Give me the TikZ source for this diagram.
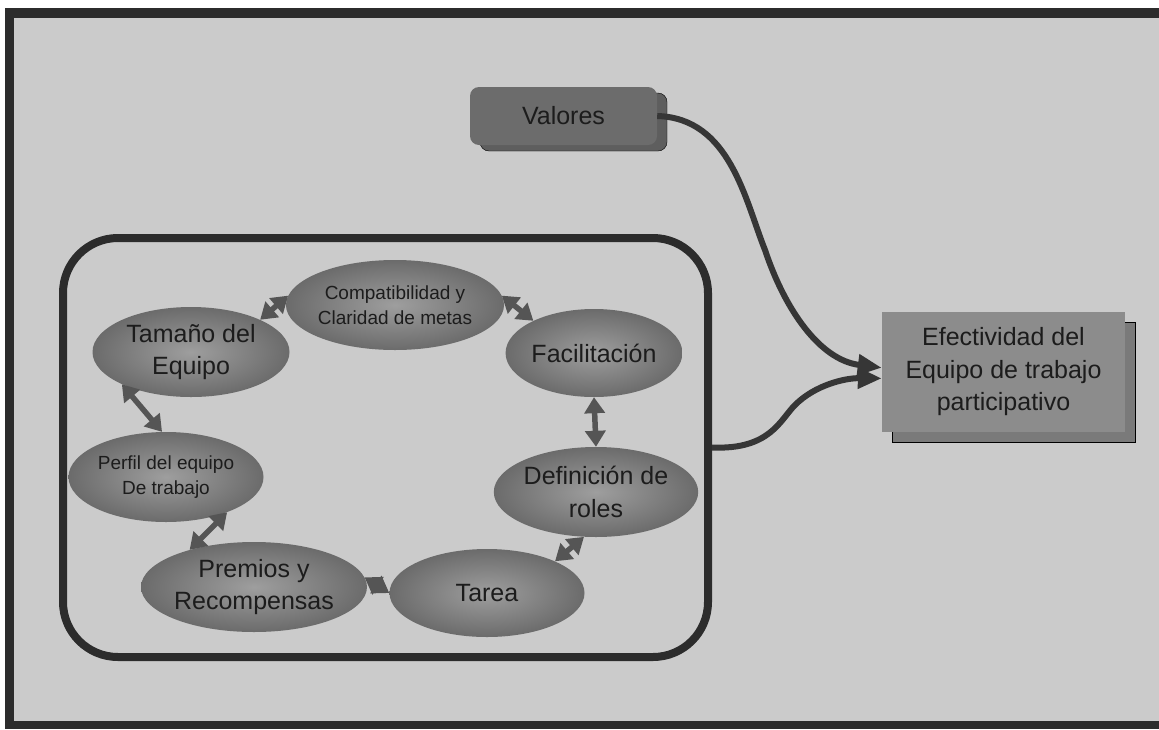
\documentclass[tikz,border=0pt]{standalone}
\usepackage{fontspec}
\setmainfont{Liberation Sans}
\usetikzlibrary{arrows.meta,shapes.geometric,shadows}

\definecolor{pagegray}{HTML}{CBCBCB}
\definecolor{framedark}{HTML}{2C2C2C}
\definecolor{inkdark}{HTML}{1C1C1C}
\definecolor{linkdark}{HTML}{363636}
\definecolor{pairdark}{HTML}{555555}
\definecolor{boxgray}{HTML}{8C8C8C}
\definecolor{boxshade}{HTML}{7A7A7A}
\definecolor{tagdark}{HTML}{6C6C6C}
\definecolor{tagshade}{HTML}{5E5E5E}

\newcommand{\bigtxt}{\fontsize{25}{32.5}\selectfont}
\newcommand{\smalltxt}{\fontsize{19}{25}\selectfont}

\begin{document}
\begin{tikzpicture}[x=1pt,y=-1pt,
  bubble/.style={ellipse, inner sep=0pt, align=center, text=inkdark,
    shade, inner color=black!38, outer color=black!58},
  pair/.style={line width=5.5pt, draw=pairdark,
    {Triangle[length=16pt,width=20pt]}-{Triangle[length=16pt,width=20pt]}},
  link/.style={line width=6pt, draw=linkdark,
    -{Triangle[length=24pt,width=20pt]}},
]
\useasboundingbox (0,0) rectangle (1159,729);

% sheet, dark frame and grey field
\fill[white] (0,0) rectangle (1159,729);
\fill[framedark] (5,8) rectangle (1159,729);
\fill[pagegray] (14,18) rectangle (1159,721);

% group of team factors
\node[draw=framedark, line width=8pt, rounded corners=55pt,
      minimum width=645pt, minimum height=419pt, inner sep=0pt] (grp) at (385.5,447.5) {};

% factors
\node[bubble, minimum width=197pt, minimum height=90pt, font=\bigtxt] (tam) at (191,352) {Tamaño del\\Equipo};
\node[bubble, minimum width=195pt, minimum height=90pt, font=\smalltxt] (comp) at (395,305) {Compatibilidad y\\Claridad de metas};
\node[bubble, minimum width=172pt, minimum height=88pt, font=\bigtxt] (fac) at (594,353) {Facilitación};
\node[bubble, minimum width=193pt, minimum height=90pt, font=\bigtxt] (def) at (596,492) {Definición de\\roles};
\node[bubble, minimum width=195pt, minimum height=88pt, font=\bigtxt] (tar) at (487,593) {Tarea};
\node[bubble, minimum width=198pt, minimum height=90pt, font=\bigtxt] (pre) at (254,587) {Premios y\\Recompensas};
\node[bubble, minimum width=195pt, minimum height=90pt, font=\smalltxt] (per) at (166,477) {Perfil del equipo\\De trabajo};

% mutual links between factors
\draw[pair] (tam.25) -- (comp.175);
\draw[pair] (comp.5) -- (fac.152);
\draw[pair] (fac.south) -- (def.north);
\draw[pair] (def.255) -- (tar.25);
\draw[pair] (tar.west) -- (pre.5);
\draw[pair] (pre.150) -- (per.330);
\draw[pair] (per.95) -- (tam.205);

% values and result
\node[rounded corners=9pt, fill=tagdark, minimum width=187pt, minimum height=58pt,
      font=\bigtxt, text=inkdark,
      copy shadow={shadow xshift=10pt, shadow yshift=-6pt, fill=tagshade}] (val) at (563.5,116) {Valores};
\node[fill=boxgray, minimum width=243pt, minimum height=120pt, align=center,
      font=\bigtxt, text=inkdark,
      copy shadow={shadow xshift=10pt, shadow yshift=-10pt, fill=boxshade}] (eff) at (1003.5,372)
      {Efectividad del\\Equipo de trabajo\\participativo};

% connectors into the result
\draw[link] (val.east) .. controls (730,118) and (745,200) .. (765,250)
            .. controls (785,310) and (820,360) .. (eff.178);
\draw[link] (grp.east) .. controls (770,450) and (780,420) .. (795,405)
            .. controls (815,385) and (845,378) .. (eff.183);
\end{tikzpicture}
\end{document}
